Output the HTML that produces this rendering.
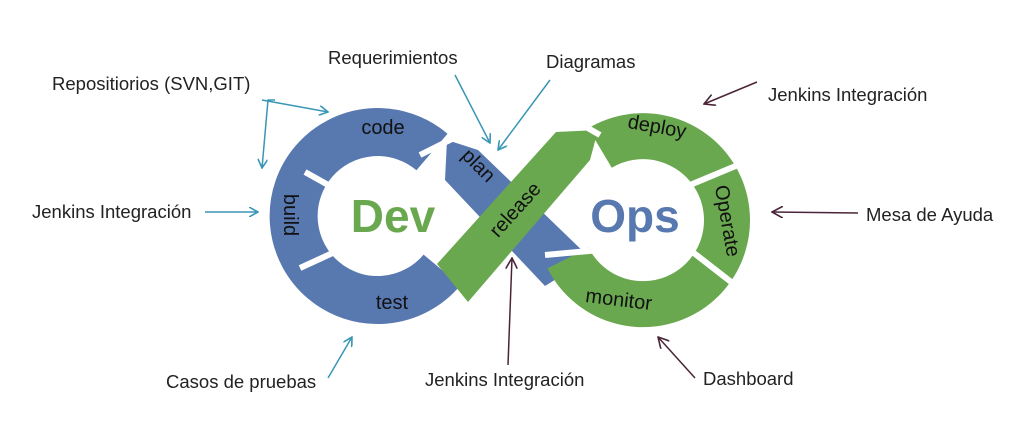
<!DOCTYPE html><html><head><style>body{margin:0;background:#fff}svg{display:block}</style></head><body>
<svg width="1024" height="431" viewBox="0 0 1024 431" font-family="Liberation Sans, sans-serif">
<defs>
<marker id="t" markerWidth="10" markerHeight="10" refX="9" refY="5" orient="auto" markerUnits="userSpaceOnUse"><path d="M0,0 L9,5 L0,10" fill="none" stroke="#3a96b5" stroke-width="1.6"/></marker>
<marker id="m" markerWidth="12" markerHeight="12" refX="11" refY="6" orient="auto" markerUnits="userSpaceOnUse"><path d="M0,0 L11,6 L0,12" fill="none" stroke="#4a2538" stroke-width="1.6"/></marker>
</defs>
<path d="M432,152 A84,84 0 1 0 442,270" fill="none" stroke="#5878b0" stroke-width="48"/>
<polygon points="447,140 478,150 590,258 545,286 445,180" fill="#5878b0"/>
<path d="M600,148 A84,84 0 1 1 568,258" fill="none" stroke="#6aa84f" stroke-width="46"/>
<polygon points="437,264 556,132 598,130 590,160 468,302" fill="#6aa84f"/>
<g stroke="#fff" stroke-width="6">
<line x1="305" y1="172" x2="355" y2="200"/>
<line x1="300" y1="268" x2="350" y2="245"/>
<line x1="420" y1="155" x2="470" y2="130"/>
<line x1="690" y1="185" x2="750" y2="160"/>
<line x1="690" y1="250" x2="735" y2="285"/>
<line x1="545" y1="255" x2="600" y2="250"/>
<line x1="565" y1="115" x2="600" y2="135"/>
</g>
<text x="393" y="232" font-size="46" font-weight="bold" fill="#6aa84f" text-anchor="middle">Dev</text>
<text x="635" y="232" font-size="46" font-weight="bold" fill="#5878b0" text-anchor="middle">Ops</text>
<g font-size="20" fill="#111" text-anchor="middle">
<text x="383" y="134">code</text>
<text transform="translate(284,215) rotate(90)">build</text>
<text x="392" y="309">test</text>
<text transform="translate(474,170) rotate(45)">plan</text>
<text transform="translate(520,214) rotate(-48)">release</text>
<text transform="translate(656,133) rotate(10)">deploy</text>
<text transform="translate(721,222) rotate(80)">Operate</text>
<text transform="translate(618,306) rotate(7)">monitor</text>
</g>
<g font-size="18.5" fill="#222">
<text x="52" y="90">Repositiorios (SVN,GIT)</text>
<text x="328" y="64">Requerimientos</text>
<text x="546" y="68">Diagramas</text>
<text x="768" y="101">Jenkins Integración</text>
<text x="32" y="218">Jenkins Integración</text>
<text x="866" y="221">Mesa de Ayuda</text>
<text x="166" y="388">Casos de pruebas</text>
<text x="425" y="386">Jenkins Integración</text>
<text x="703" y="385">Dashboard</text>
</g>
<g fill="none" stroke="#3a96b5" stroke-width="1.5">
<polyline points="262,100 328,112" marker-end="url(#t)"/>
<polyline points="275,100 268,100 262,168" marker-end="url(#t)"/>
<line x1="455" y1="75" x2="490" y2="143" marker-end="url(#t)"/>
<line x1="550" y1="80" x2="498" y2="150" marker-end="url(#t)"/>
<line x1="205" y1="212" x2="258" y2="212" marker-end="url(#t)"/>
<line x1="328" y1="378" x2="352" y2="337" marker-end="url(#t)"/>
</g>
<g fill="none" stroke="#4a2538" stroke-width="1.5">
<line x1="757" y1="82" x2="704" y2="104" marker-end="url(#m)"/>
<line x1="858" y1="213" x2="772" y2="212" marker-end="url(#m)"/>
<line x1="508" y1="365" x2="512" y2="258" marker-end="url(#m)"/>
<line x1="695" y1="378" x2="658" y2="337" marker-end="url(#m)"/>
</g>
</svg></body></html>
